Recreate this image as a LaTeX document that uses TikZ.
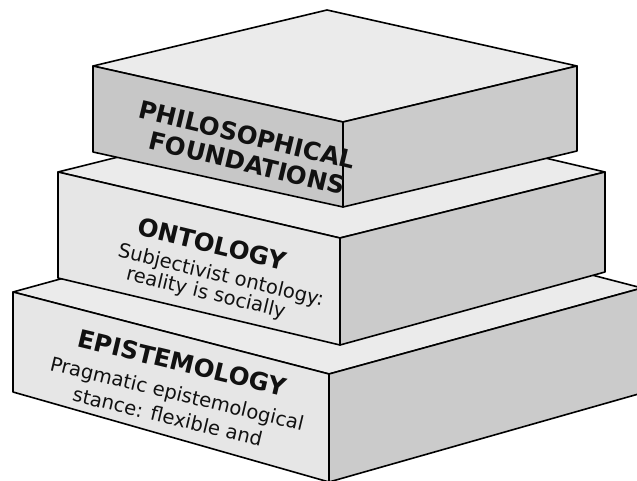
\documentclass[tikz,border=0pt]{standalone}
\usepackage{fontspec}
\setmainfont{DejaVu Sans}
\definecolor{topgray}{HTML}{EBEBEB}
\definecolor{sidelight}{HTML}{E6E6E6}
\definecolor{sidedark}{HTML}{CBCBCB}
\definecolor{frontdark}{HTML}{C7C7C7}
\definecolor{ink}{HTML}{111111}
\begin{document}
\begin{tikzpicture}[x=1pt,y=-1pt,
  edge/.style={draw=black, line width=1.6pt, line join=round},
  topface/.style={edge, fill=topgray},
  leftface/.style={edge, fill=sidelight},
  rightface/.style={edge, fill=sidedark},
  darkface/.style={edge, fill=frontdark},
  heading/.style={font=\bfseries\fontsize{24.5}{26}\selectfont, text=ink,
    inner sep=0pt, anchor=base, rotate=-13.5},
  bodytext/.style={font=\fontsize{19.6}{21}\selectfont, text=ink,
    inner sep=0pt, anchor=base, rotate=-13.5}]
\useasboundingbox (0,0) rectangle (637,481);
\clip (0,0) rectangle (637,481);

% bottom slab: epistemology
\coordinate (bLT) at (13,292);  \coordinate (bFT) at (329,374);
\coordinate (bRT) at (642,288); \coordinate (bBK) at (326,206);
\coordinate (bLB) at (13,392);  \coordinate (bFB) at (329,482);
\coordinate (bRB) at (642,393);
\path[topface]   (bLT) -- (bBK) -- (bRT) -- (bFT) -- cycle;
\path[leftface]  (bLT) -- (bFT) -- (bFB) -- (bLB) -- cycle;
\path[rightface] (bFT) -- (bRT) -- (bRB) -- (bFB) -- cycle;

% middle slab: ontology
\coordinate (mLT) at (58,172);  \coordinate (mFT) at (340,238);
\coordinate (mRT) at (605,172); \coordinate (mBK) at (323,106);
\coordinate (mLB) at (58,278);  \coordinate (mFB) at (340,345);
\coordinate (mRB) at (605,272);
\path[topface]   (mLT) -- (mBK) -- (mRT) -- (mFT) -- cycle;
\path[leftface]  (mLT) -- (mFT) -- (mFB) -- (mLB) -- cycle;
\path[rightface] (mFT) -- (mRT) -- (mRB) -- (mFB) -- cycle;

% top slab: philosophical foundations
\coordinate (tLT) at (93,66);   \coordinate (tFT) at (343,122);
\coordinate (tRT) at (577,66);  \coordinate (tBK) at (327,10);
\coordinate (tLB) at (93,152);  \coordinate (tFB) at (343,207);
\coordinate (tRB) at (577,151);
\path[topface]   (tLT) -- (tBK) -- (tRT) -- (tFT) -- cycle;
\path[darkface]  (tLT) -- (tFT) -- (tFB) -- (tLB) -- cycle;
\path[rightface] (tFT) -- (tRT) -- (tRB) -- (tFB) -- cycle;

% labels on the front faces
\node[heading] (philo) at (245,143.6) {PHILOSOPHICAL};
\node[heading] (found) at (245,171.6) {FOUNDATIONS};

\node[heading]  (onto)  at (210,252.6) {ONTOLOGY};
\node[bodytext] (onto1) at (219.5,281.5) {Subjectivist ontology:};
\node[bodytext] (onto2) at (204.5,299) {reality is socially};

\node[heading]  (epis)  at (180,371.6) {EPISTEMOLOGY};
\node[bodytext] (epis1) at (175.5,400.5) {Pragmatic epistemological};
\node[bodytext] (epis2) at (166,423.5) {stance: flexible and};
\end{tikzpicture}
\end{document}
